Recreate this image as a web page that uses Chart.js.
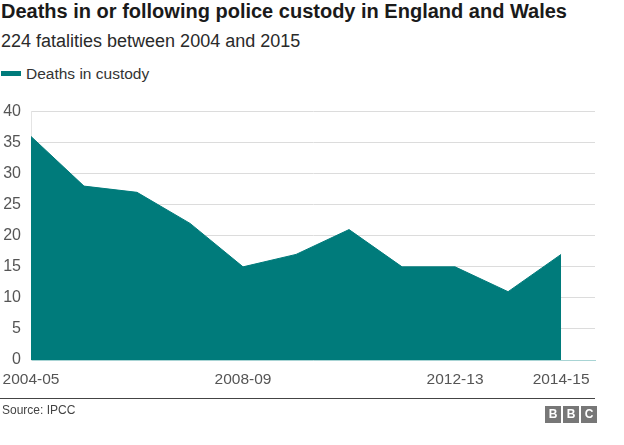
<!DOCTYPE html>
<html>
<head>
<meta charset="utf-8">
<script src="https://cdn.jsdelivr.net/npm/chart.js@4"></script>
<style>
  body { margin: 0; background: #fff; font-family: "Liberation Sans", Arial, sans-serif; }
  #page { position: relative; width: 624px; height: 445px; overflow: hidden; }
  .title { position: absolute; left: 1px; top: 0px; font-size: 20px; font-weight: bold; color: #1a1a1a; white-space: nowrap; }
  .subtitle { position: absolute; left: 1px; top: 31px; font-size: 18px; color: #2a2a2a; white-space: nowrap; }
  .legend { position: absolute; left: 1px; top: 65px; font-size: 15.5px; color: #333; white-space: nowrap; }
  .legend .swatch { display: inline-block; width: 20px; height: 5px; background: #007b7b; vertical-align: middle; margin-right: 5px; position: relative; top: -1px; }
  #wrap { position: absolute; left: 0; top: 92px; width: 624px; height: 308px; }
  .rule { position: absolute; left: 0; top: 398px; width: 595px; height: 1px; background: #444; }
  .source { position: absolute; left: 2px; top: 403px; font-size: 12px; color: #444; }
  .bbc { position: absolute; left: 543px; top: 404px; }
  .bbc span { display: inline-block; width: 16px; height: 17px; margin-left: 2px; background: #777; color: #fff; font-size: 12px; font-weight: bold; text-align: center; line-height: 17px; }
</style>
</head>
<body>
<div id="page">
  <div class="title">Deaths in or following police custody in England and Wales</div>
  <div class="subtitle">224 fatalities between 2004 and 2015</div>
  <div class="legend"><span class="swatch"></span>Deaths in custody</div>
  <div id="wrap"><canvas id="Chart"></canvas></div>
  <div class="rule"></div>
  <div class="source">Source: IPCC</div>
  <div class="bbc"><span>B</span><span>B</span><span>C</span></div>
</div>
<script>
const years = ['2004-05', '2005-06', '2006-07', '2007-08', '2008-09', '2009-10',
  '2010-11', '2011-12', '2012-13', '2013-14', '2014-15'];
const deaths = [36, 28, 27, 22, 15, 17, 21, 15, 15, 11, 17];
const shownYears = ['2004-05', '2008-09', '2012-13', '2014-15'];

const ctx = document.getElementById("Chart").getContext("2d");

let points = [];
for (let i = 0; i < years.length; i++) {
  points.push({ x: i, y: deaths[i] });
}

new Chart(ctx, {
  type: 'line',
  data: {
    datasets: [{
      label: 'Deaths in custody',
      data: points,
      fill: 'origin',
      borderColor: '#007b7b',
      backgroundColor: '#007b7b',
      borderWidth: 1,
      pointRadius: 0,
      tension: 0
    }]
  },
  options: {
    responsive: true,
    maintainAspectRatio: false,
    animation: false,
    layout: { padding: { top: 2, right: 29, left: 0, bottom: 0 } },
    plugins: { legend: { display: false }, tooltip: { enabled: false } },
    scales: {
      x: {
        type: 'linear',
        min: 0,
        max: 10.64,
        afterBuildTicks: function(scale) {
          scale.ticks = shownYears.map(function(y) { return { value: years.indexOf(y) }; });
        },
        afterFit: function(scale) { scale.height = 40; },
        ticks: {
          autoSkip: false,
          maxRotation: 0,
          color: '#555',
          font: { family: 'Liberation Sans', size: 15.5 },
          padding: 2,
          callback: function(v) { return years[v]; }
        },
        grid: { display: false },
        border: { color: '#a8d4d4', width: 1 }
      },
      y: {
        min: 0,
        max: 40,
        afterFit: function(scale) { scale.width = 31; },
        ticks: {
          stepSize: 5,
          color: '#555',
          font: { family: 'Liberation Sans', size: 16 },
          padding: 10
        },
        grid: { color: '#dcdcdc', drawTicks: false },
        border: { color: '#e4e4e4' }
      }
    }
  }
});
</script>
</body>
</html>
